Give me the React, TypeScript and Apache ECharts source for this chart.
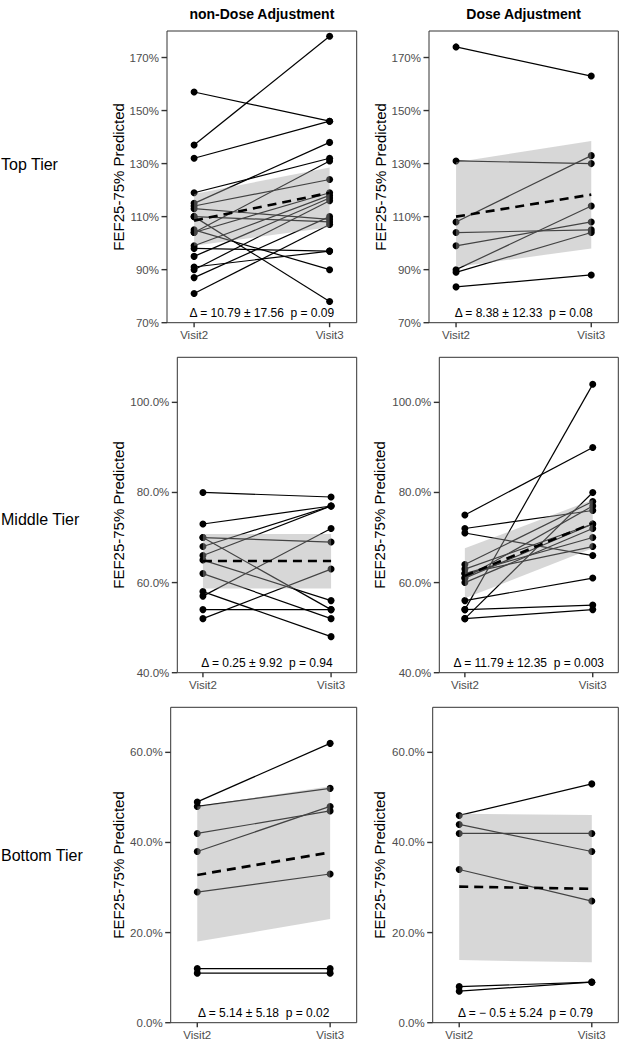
import React, { useEffect, useRef } from 'react';
import * as echarts from 'echarts';

// ---------- data ----------
const visits = ['Visit2', 'Visit3'];
const visitPos = [0, 1];
const tiers = ['Top Tier', 'Middle Tier', 'Bottom Tier'];
const groups = ['non-Dose Adjustment', 'Dose Adjustment'];

const topTicks = [70, 90, 110, 130, 150, 170];
const midTicks = [40, 60, 80, 100];
const botTicks = [0, 20, 40, 60];

// Top tier, non-Dose Adjustment
const topNonV2 = [157, 137, 132, 119, 115, 114, 113, 110, 110, 105, 104, 104, 99, 98, 95, 91, 90, 87, 81];
const topNonV3 = [146, 178, 146, 132, 138, 124, 109, 108, 78, 90, 131, 119, 118, 97, 117, 97, 116, 110, 107];
const topNonMean = [108.5, 119];
const topNonLo = [99, 106];
const topNonHi = [118.5, 128.5];

// Top tier, Dose Adjustment
const topDoseV2 = [174, 131, 108, 104, 99, 90, 89, 83.5];
const topDoseV3 = [163, 130, 133, 105, 108, 114, 104, 88];
const topDoseMean = [110, 118.3];
const topDoseLo = [91, 98];
const topDoseHi = [130.5, 138.5];

// Middle tier, non-Dose Adjustment
const midNonV2 = [80, 73, 70, 70, 68, 66, 65, 62, 58, 57, 54, 52];
const midNonV3 = [79, 77, 69, 54, 77, 77, 56, 52, 48, 72, 54, 63];
const midNonMean = [64.8, 64.8];
const midNonLo = [58.7, 58.7];
const midNonHi = [70.8, 70.8];

// Middle tier, Dose Adjustment
const midDoseV2 = [75, 72, 71, 64, 63, 62, 62, 61, 61, 60, 56, 54, 54, 52, 52];
const midDoseV3 = [90, 76, 66, 78, 73, 70, 68, 77, 73, 72, 61, 104, 55, 80, 54];
const midDoseMean = [61.5, 73.2];
const midDoseLo = [56.5, 67.6];
const midDoseHi = [67.6, 78.4];

// Bottom tier, non-Dose Adjustment
const botNonV2 = [49, 48, 42, 38, 29, 12, 11];
const botNonV3 = [62, 52, 47, 48, 33, 12, 11];
const botNonMean = [32.8, 37.8];
const botNonLo = [18, 23];
const botNonHi = [48, 52.5];

// Bottom tier, Dose Adjustment
const botDoseV2 = [46, 44, 42, 34, 8, 7];
const botDoseV3 = [53, 38, 42, 27, 9, 9];
const botDoseMean = [30.2, 29.7];
const botDoseLo = [13.9, 13.4];
const botDoseHi = [46.4, 46.1];

const notes = [
  'Δ = 10.79 ± 17.56  p = 0.09',
  'Δ = 8.38 ± 12.33  p = 0.08',
  'Δ = 0.25 ± 9.92  p = 0.94',
  'Δ = 11.79 ± 12.35  p = 0.003',
  'Δ = 5.14 ± 5.18  p = 0.02',
  'Δ = − 0.5 ± 5.24  p = 0.79',
];

const panelData = [
  { v2: topNonV2, v3: topNonV3, mean: topNonMean, lo: topNonLo, hi: topNonHi },
  { v2: topDoseV2, v3: topDoseV3, mean: topDoseMean, lo: topDoseLo, hi: topDoseHi },
  { v2: midNonV2, v3: midNonV3, mean: midNonMean, lo: midNonLo, hi: midNonHi },
  { v2: midDoseV2, v3: midDoseV3, mean: midDoseMean, lo: midDoseLo, hi: midDoseHi },
  { v2: botNonV2, v3: botNonV3, mean: botNonMean, lo: botNonLo, hi: botNonHi },
  { v2: botDoseV2, v3: botDoseV3, mean: botDoseMean, lo: botDoseLo, hi: botDoseHi },
];

// ---------- layout ----------
const pct0 = (v: number) => `${v}%`;
const pct1 = (v: number) => `${v.toFixed(1)}%`;

const X_MIN = -0.2;
const X_MAX = 1.2;
const TICK_LEN = 5.5;

const layout = [
  { left: 167, top: 31, width: 189.7, height: 291.7, min: 70, max: 180, ticks: topTicks, fmt: pct0, gap: 41 },
  { left: 429, top: 31, width: 189.3, height: 291.7, min: 70, max: 180, ticks: topTicks, fmt: pct0, gap: 39 },
  { left: 177.3, top: 357.3, width: 179.4, height: 315.4, min: 40, max: 110, ticks: midTicks, fmt: pct1, gap: 51 },
  { left: 439.3, top: 357.3, width: 179, height: 315.4, min: 40, max: 110, ticks: midTicks, fmt: pct1, gap: 52 },
  { left: 170.7, top: 707.3, width: 186, height: 315.4, min: 0, max: 70, ticks: botTicks, fmt: pct1, gap: 45 },
  { left: 432.7, top: 707.3, width: 185.6, height: 315.4, min: 0, max: 70, ticks: botTicks, fmt: pct1, gap: 46 },
];

const FONT = "'Liberation Sans', Arial, Helvetica, sans-serif";
const AXIS_COLOR = '#333333';

function baseGraphics() {
  const graphic: any[] = [];
  groups.forEach((g, c) => {
    const l = layout[c];
    graphic.push({
      type: 'text',
      x: l.left + l.width / 2,
      y: 14,
      style: {
        text: g,
        fill: '#000',
        font: `bold 14px ${FONT}`,
        textAlign: 'center',
        textVerticalAlign: 'middle',
      },
    });
  });
  const rowY = [164, 519, 855];
  tiers.forEach((t, r) => {
    graphic.push({
      type: 'text',
      x: 1,
      y: rowY[r],
      style: {
        text: t,
        fill: '#000',
        font: `16px ${FONT}`,
        textAlign: 'left',
        textVerticalAlign: 'middle',
      },
    });
  });
  notes.forEach((n, i) => {
    const l = layout[i];
    graphic.push({
      type: 'text',
      x: l.left + l.width / 2,
      y: l.top + l.height - 10,
      z: 10,
      style: {
        text: n,
        fill: '#000',
        font: `12px ${FONT}`,
        textAlign: 'center',
        textVerticalAlign: 'middle',
      },
    });
  });
  return graphic;
}

function buildOption() {
  const grid = layout.map((l) => ({
    left: l.left,
    top: l.top,
    width: l.width,
    height: l.height,
    show: true,
    borderColor: AXIS_COLOR,
    borderWidth: 1,
    backgroundColor: 'transparent',
  }));

  const xAxis = layout.map((_, i) => ({
    type: 'value',
    gridIndex: i,
    position: 'bottom',
    min: X_MIN,
    max: X_MAX,
    axisLine: { show: false, onZero: false },
    splitLine: { show: false },
    axisTick: { show: false },
    axisLabel: {
      customValues: visitPos,
      formatter: (v: number) => visits[Math.round(v)],
      color: '#4d4d4d',
      fontSize: 11.5,
      fontFamily: FONT,
      margin: 6,
    },
  }));

  const yAxis = layout.map((l, i) => ({
    type: 'value',
    gridIndex: i,
    position: 'left',
    min: l.min,
    max: l.max,
    axisLine: { show: false, onZero: false },
    splitLine: { show: false },
    axisTick: { show: false },
    axisLabel: {
      customValues: l.ticks,
      formatter: l.fmt,
      color: '#4d4d4d',
      fontSize: 11.5,
      fontFamily: FONT,
      margin: 8,
    },
    name: 'FEF25-75% Predicted',
    nameLocation: 'middle',
    nameGap: l.gap,
    nameTextStyle: { fontSize: 15, color: '#000', fontFamily: FONT },
  }));

  const series: any[] = [];
  panelData.forEach((p, i) => {
    p.v2.forEach((a, j) => {
      series.push({
        type: 'line',
        xAxisIndex: i,
        yAxisIndex: i,
        data: [
          [visitPos[0], a],
          [visitPos[1], p.v3[j]],
        ],
        symbol: 'circle',
        symbolSize: 7,
        itemStyle: { color: '#000' },
        lineStyle: { color: '#000', width: 1.2 },
        z: 2,
        silent: true,
        clip: false,
      });
    });
    // confidence ribbon
    series.push({
      type: 'custom',
      xAxisIndex: i,
      yAxisIndex: i,
      z: 3,
      silent: true,
      data: [[visitPos[0], p.lo[0], p.hi[0], visitPos[1], p.lo[1], p.hi[1]]],
      encode: { x: 0, y: 1 },
      renderItem: (_params: any, api: any) => {
        const a = api.coord([api.value(0), api.value(2)]);
        const b = api.coord([api.value(3), api.value(5)]);
        const c = api.coord([api.value(3), api.value(4)]);
        const d = api.coord([api.value(0), api.value(1)]);
        return {
          type: 'polygon',
          shape: { points: [a, b, c, d] },
          style: { fill: 'rgba(160,160,160,0.42)' },
        };
      },
    });
    // mean line
    series.push({
      type: 'line',
      xAxisIndex: i,
      yAxisIndex: i,
      data: [
        [visitPos[0], p.mean[0]],
        [visitPos[1], p.mean[1]],
      ],
      symbol: 'none',
      lineStyle: { color: '#000', width: 2.6, type: [9, 6] },
      z: 4,
      silent: true,
    });
  });

  return {
    animation: false,
    backgroundColor: '#ffffff',
    textStyle: { fontFamily: FONT },
    grid,
    xAxis,
    yAxis,
    series,
    graphic: baseGraphics(),
  };
}

// tick marks placed through each panel's axis scales
function tickGraphics(chart: any) {
  const out: any[] = [];
  layout.forEach((l, i) => {
    l.ticks.forEach((t) => {
      const pt = chart.convertToPixel({ gridIndex: i }, [X_MIN, t]);
      if (!pt) return;
      out.push({
        type: 'rect',
        z: 20,
        silent: true,
        shape: { x: pt[0] - TICK_LEN, y: pt[1] - 0.7, width: TICK_LEN, height: 1.4 },
        style: { fill: AXIS_COLOR },
      });
    });
    visitPos.forEach((v) => {
      const pt = chart.convertToPixel({ gridIndex: i }, [v, l.min]);
      if (!pt) return;
      out.push({
        type: 'rect',
        z: 20,
        silent: true,
        shape: { x: pt[0] - 0.7, y: pt[1], width: 1.4, height: TICK_LEN - 1 },
        style: { fill: AXIS_COLOR },
      });
    });
  });
  return out;
}

export default function App() {
  const ref = useRef<HTMLDivElement>(null);
  useEffect(() => {
    if (!ref.current) return;
    const chart = echarts.init(ref.current, undefined, { renderer: 'svg' });
    chart.setOption(buildOption() as any);
    chart.setOption({ graphic: [...baseGraphics(), ...tickGraphics(chart)] } as any, { replaceMerge: ['graphic'] });
    return () => chart.dispose();
  }, []);
  return (
    <div
      ref={ref}
      style={{ position: 'absolute', left: 0, top: 0, width: 627, height: 1050, background: '#fff' }}
    />
  );
}
